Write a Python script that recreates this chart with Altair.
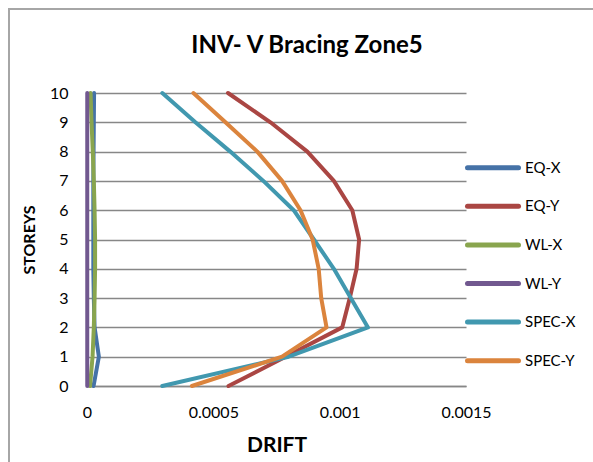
import altair as alt
import pandas as pd

storeys = [0, 1, 2, 3, 4, 5, 6, 7, 8, 9, 10]
series_names = ["EQ-X", "EQ-Y", "WL-X", "WL-Y", "SPEC-X", "SPEC-Y"]
colors = ["#4572A7", "#AA4643", "#89A54E", "#71588F", "#4198AF", "#DB843D"]
title_text = "INV- V Bracing Zone5"

eq_x = [0.000026, 0.000047, 0.000030, 0.000027, 0.000025, 0.000025,
        0.000025, 0.000025, 0.000026, 0.000027, 0.000028]
eq_y = [0.000560, 0.000786, 0.001010, 0.001040, 0.001067, 0.001077,
        0.001050, 0.000977, 0.000872, 0.000726, 0.000558]
wl_x = [0.000012, 0.000022, 0.000027, 0.000030, 0.000032, 0.000032,
        0.000030, 0.000027, 0.000023, 0.000018, 0.000014]
wl_y = [0.000001, 0.000001, 0.000001, 0.000001, 0.000001, 0.000001,
        0.000001, 0.000001, 0.000001, 0.000001, 0.000001]
spec_x = [0.000298, 0.000798, 0.001112, 0.001044, 0.000977, 0.000898,
          0.000818, 0.000698, 0.000567, 0.000429, 0.000298]
spec_y = [0.000415, 0.000772, 0.000948, 0.000927, 0.000917, 0.000893,
          0.000845, 0.000772, 0.000674, 0.000548, 0.000421]

x_ticks = [0, 0.0005, 0.001, 0.0015]

series_values = [eq_x, eq_y, wl_x, wl_y, spec_x, spec_y]
rows = []
for name, vals in zip(series_names, series_values):
    for s, v in zip(storeys, vals):
        rows.append({"series": name, "storey": s, "drift": v})
df = pd.DataFrame(rows)

FONT = "Lato"
GRID = "#878787"
FRAME = "#A6A6A6"
color_scale = alt.Scale(domain=series_names, range=colors)

lines = alt.Chart(df).mark_line(
    strokeWidth=4, strokeJoin="round", strokeCap="round"
).encode(
    x=alt.X(
        "drift:Q",
        scale=alt.Scale(domain=[0, 0.0015], nice=False),
        axis=alt.Axis(
            values=x_ticks, format="~g", title="DRIFT", grid=False, ticks=False,
            labelFlush=False,
            domainColor=GRID, domainWidth=1.5, labelFontSize=16, labelPadding=18,
            labelFont=FONT, labelColor="#000000", titleFont=FONT, titleFontSize=21,
            titleFontWeight="bold", titleColor="#000000", titlePadding=14,
        ),
    ),
    y=alt.Y(
        "storey:Q",
        scale=alt.Scale(domain=[0, 10], nice=False),
        axis=alt.Axis(
            values=storeys, title="STOREYS", grid=True, gridColor=GRID, gridWidth=1.5,
            ticks=False, labelFlush=False, domainColor=GRID, domainWidth=1.5,
            labelFontSize=16, labelPadding=19, labelFont=FONT, labelColor="#000000",
            titleFont=FONT, titleFontSize=16, titleFontWeight="bold",
            titleColor="#000000", titlePadding=12,
        ),
    ),
    color=alt.Color("series:N", scale=color_scale, legend=None),
    order=alt.Order("storey:Q"),
)

frame_df = pd.DataFrame({"frame": [0]})
frame_left = alt.Chart(frame_df).mark_rule(color=FRAME, strokeWidth=2).encode(
    x=alt.value(-78), y=alt.value(-85), y2=alt.value(369)
)
frame_top = alt.Chart(frame_df).mark_rule(color=FRAME, strokeWidth=2).encode(
    x=alt.value(-79), x2=alt.value(506), y=alt.value(-84)
)
title_df = pd.DataFrame({"title": [title_text]})
title_mark = alt.Chart(title_df).mark_text(
    font=FONT, fontSize=24, fontWeight="bold", color="#000000",
    align="center", baseline="alphabetic",
).encode(x=alt.value(220), y=alt.value(-40), text="title:N")

leg_df = pd.DataFrame({"series": series_names, "idx": list(range(len(series_names)))})
leg_base = alt.Chart(leg_df).encode(
    y=alt.Y("idx:Q", scale=alt.Scale(domain=[-1.935, 5.655], reverse=True,
                                      nice=False, zero=False), axis=None)
)
leg_rules = leg_base.mark_rule(strokeWidth=5, strokeCap="round").encode(
    x=alt.value(380.5), x2=alt.value(431.5),
    color=alt.Color("series:N", scale=color_scale, legend=None),
)
leg_text = leg_base.mark_text(
    align="left", baseline="middle", fontSize=15, font=FONT, color="#000000"
).encode(x=alt.value(438), text="series:N")
legend = leg_rules + leg_text

chart = alt.layer(
    frame_left, frame_top, title_mark, lines, legend
).resolve_scale(y="independent").properties(
    width=379,
    height=293,
    autosize=alt.AutoSizeParams(type="none"),
    padding={"left": 87, "top": 93, "right": 127, "bottom": 76},
    background="#ffffff",
).configure_view(stroke=None)

chart.save("out.html", embed_options={"renderer": "svg", "actions": False})
